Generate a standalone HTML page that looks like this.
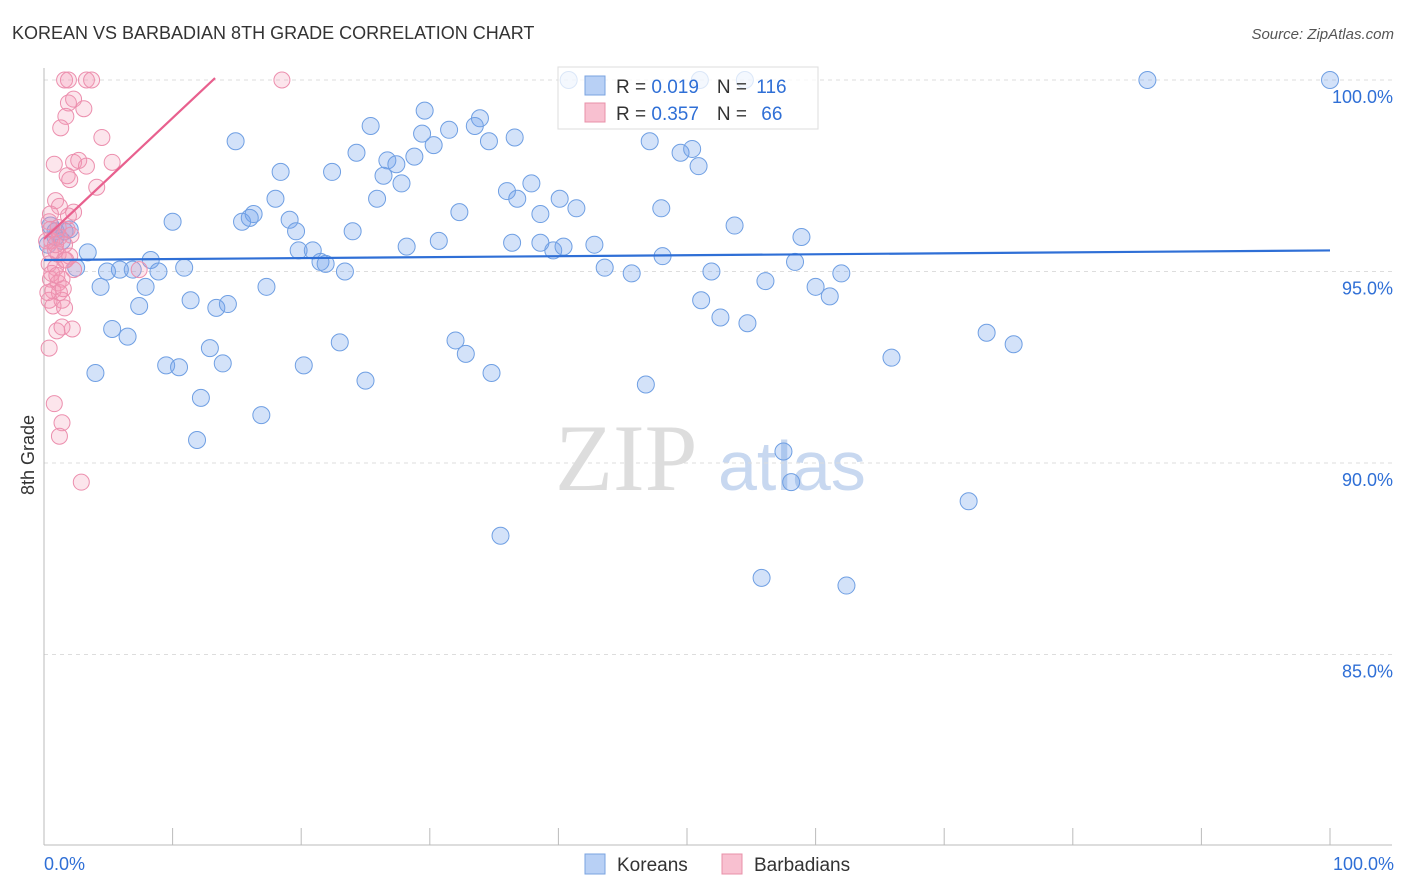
<!DOCTYPE html>
<html><head><meta charset="utf-8">
<style>
body{margin:0;background:#fff;font-family:"Liberation Sans",sans-serif;}
#wrap{position:relative;width:1406px;height:892px;overflow:hidden;}
</style></head>
<body>
<div id="wrap">
<svg id="svg" width="1406" height="892" xmlns="http://www.w3.org/2000/svg">
<text x="12" y="39" font-size="18" fill="#333">KOREAN VS BARBADIAN 8TH GRADE CORRELATION CHART</text>
<text x="1394" y="39" font-size="15" fill="#555" font-style="italic" text-anchor="end">Source: ZipAtlas.com</text>
<text x="555" y="490" font-size="95" fill="#ddd" font-family="Liberation Serif,serif">ZIP</text>
<text x="718" y="490" font-size="70" fill="#c8d8f0">atlas</text>
<text x="34" y="455" font-size="18" fill="#333" transform="rotate(-90 34 455)" text-anchor="middle">8th Grade</text>
<g id="grid"></g><g id="axes"></g><g id="pts"></g><g id="trend"></g>
<g>
<rect x="558" y="67" width="260" height="62" fill="#fff" fill-opacity="0.75" stroke="#ddd"/>
<rect x="585" y="76" width="20" height="19" fill="#b8d0f5" stroke="#7aa3e0"/>
<rect x="585" y="103" width="20" height="19" fill="#f8c0d0" stroke="#e890a8"/>
<text x="616" y="93" font-size="19" fill="#333">R = <tspan fill="#2f6fd6">0.019</tspan><tspan dx="18">N = </tspan><tspan fill="#2f6fd6" dx="4">116</tspan></text>
<text x="616" y="120" font-size="19" fill="#333">R = <tspan fill="#2f6fd6">0.357</tspan><tspan dx="18">N = </tspan><tspan fill="#2f6fd6" dx="9">66</tspan></text>
</g>
<g>
<rect x="585" y="854" width="20" height="20" fill="#b8d0f5" stroke="#7aa3e0"/>
<text x="617" y="871" font-size="19" fill="#333">Koreans</text>
<rect x="722" y="854" width="20" height="20" fill="#f8c0d0" stroke="#e890a8"/>
<text x="754" y="871" font-size="19" fill="#333">Barbadians</text>
</g>
</svg>
</div>
<script>
const yTicks=[100,95,90,85];
const yTickLabels=["100.0%","95.0%","90.0%","85.0%"];
const xTickLabels=["0.0%","100.0%"];
const blueX=[40.8,51.0,54.5,85.8,100,14.9,25.4,29.6,33.9,33.5,29.4,31.5,30.3,36.6,34.6,24.3,18.4,22.4,26.7,28.8,27.4,26.4,27.8,25.9,18.0,36.0,36.8,37.9,40.1,47.1,49.5,50.4,50.9,10.0,15.4,16.3,16.0,19.1,19.6,24.0,32.3,38.6,41.4,48.0,53.7,58.9,3.4,2.5,4.9,5.9,6.9,8.3,8.9,10.9,19.8,20.9,21.5,21.9,23.4,28.2,30.7,36.4,38.6,39.6,40.4,42.8,43.6,45.7,48.1,51.9,56.1,58.4,60.0,61.1,62.0,4.4,7.9,7.4,11.4,13.4,14.3,17.3,51.1,52.6,54.7,5.3,6.5,12.9,13.9,9.5,10.5,20.2,23.0,32.0,32.8,34.8,25.0,46.8,4.0,12.2,16.9,11.9,57.5,58.1,71.9,35.5,55.8,62.4,65.9,73.3,75.4,0.5,0.9,1.6,1.4,0.9,0.3,2.0];
const blueY=[100,100,100,100,100,98.4,98.8,99.2,99.0,98.8,98.6,98.7,98.3,98.5,98.4,98.1,97.6,97.6,97.9,98.0,97.8,97.5,97.3,96.9,96.9,97.1,96.9,97.3,96.9,98.4,98.1,98.2,97.75,96.3,96.3,96.5,96.4,96.35,96.05,96.05,96.55,96.5,96.65,96.65,96.2,95.9,95.5,95.1,95.0,95.05,95.05,95.3,95.0,95.1,95.55,95.55,95.25,95.2,95.0,95.65,95.8,95.75,95.75,95.55,95.65,95.7,95.1,94.95,95.4,95.0,94.75,95.25,94.6,94.35,94.95,94.6,94.6,94.1,94.25,94.05,94.15,94.6,94.25,93.8,93.65,93.5,93.3,93.0,92.6,92.55,92.5,92.55,93.15,93.2,92.85,92.35,92.15,92.05,92.35,91.7,91.25,90.6,90.3,89.5,89.0,88.1,87.0,86.8,92.75,93.4,93.1,96.2,96.05,96.05,95.8,95.9,95.7,96.1];
const pinkX=[1.6,1.9,3.3,3.7,18.5,1.9,2.3,3.1,1.7,1.3,4.5,0.8,2.3,2.7,3.3,5.3,1.8,2.0,4.1,0.9,2.3,0.4,1.1,1.8,2.1,0.6,1.2,1.6,0.5,1.1,1.6,0.4,0.9,2.3,7.4,0.5,1.1,1.4,0.7,1.2,0.4,1.4,0.7,1.6,1.0,1.4,2.2,0.4,0.8,1.4,1.2,2.9,0.5,0.2,0.9,1.7,0.6,1.0,1.2,1.9,0.5,0.9,1.5,0.3,2.0];
const pinkY=[100,100,100,100,100,99.4,99.5,99.25,99.05,98.75,98.5,97.8,97.85,97.9,97.75,97.85,97.5,97.4,97.2,96.85,96.55,96.3,96.15,96.1,95.95,95.8,95.9,95.7,95.5,95.45,95.3,95.2,95.1,95.05,95.05,94.8,94.7,94.8,94.5,94.45,94.25,94.25,94.1,94.05,93.45,93.55,93.5,93.0,91.55,91.05,90.7,89.5,96.1,95.8,95.55,95.3,94.95,94.9,96.7,96.45,96.5,95.7,94.55,94.45,95.4];
const blueTrend=[95.3,95.55];
const pinkTrend=[95.85,100.05];
const pinkTrendEnd=13.3;

const NS="http://www.w3.org/2000/svg";
const X0=44,X1=1330,Ytop=80,pxPer=38.3;
const xs=v=>X0+(X1-X0)*v/100;
const ys=v=>Ytop+(100-v)*pxPer;
function mk(tag,attrs,parent){const e=document.createElementNS(NS,tag);for(const k in attrs)e.setAttribute(k,attrs[k]);parent.appendChild(e);return e;}
const grid=document.getElementById('grid'),axes=document.getElementById('axes'),pts=document.getElementById('pts'),trend=document.getElementById('trend');
yTicks.forEach((t,i)=>{
  const l=mk('line',{x1:X0,x2:1392,y1:ys(t),y2:ys(t),stroke:'#ddd','stroke-dasharray':'4,4'},grid);
  
  
  const tx=mk('text',{x:1393,y:ys(t)+23,'font-size':18,fill:'#2f6fd6','text-anchor':'end'},axes);
  tx.textContent=yTickLabels[i];
  
  
});
const xa=mk('line',{x1:X0,x2:1392,y1:845,y2:845,stroke:'#bbb'},axes);


const ya=mk('line',{x1:X0,x2:X0,y1:68,y2:845,stroke:'#bbb'},axes);


for(let i=0;i<=10;i++){
  const t=mk('line',{x1:xs(i*10),x2:xs(i*10),y1:828,y2:845,stroke:'#bbb'},axes);
  
  
}
const xl0=mk('text',{x:44,y:870,'font-size':18,fill:'#2f6fd6'},axes);xl0.textContent=xTickLabels[0];


const xl1=mk('text',{x:1394,y:870,'font-size':18,fill:'#2f6fd6','text-anchor':'end'},axes);xl1.textContent=xTickLabels[1];


blueX.forEach((x,i)=>{
  const c=mk('circle',{cx:xs(x),cy:ys(blueY[i]),r:8.5,fill:'rgba(110,160,235,0.3)',stroke:'#6f9fe3','stroke-width':1},pts);
  
  
});
pinkX.forEach((x,i)=>{
  const c=mk('circle',{cx:xs(x),cy:ys(pinkY[i]),r:8,fill:'rgba(245,150,180,0.25)',stroke:'#ec8fae','stroke-width':1},pts);
  
  
});
const bt=mk('line',{x1:xs(0),x2:xs(100),y1:ys(blueTrend[0]),y2:ys(blueTrend[1]),stroke:'#2f6fd6','stroke-width':2.2},trend);


const pt=mk('line',{x1:xs(0),x2:xs(pinkTrendEnd),y1:ys(pinkTrend[0]),y2:ys(pinkTrend[1]),stroke:'#e8608e','stroke-width':2.2},trend);


</script>
</body></html>
